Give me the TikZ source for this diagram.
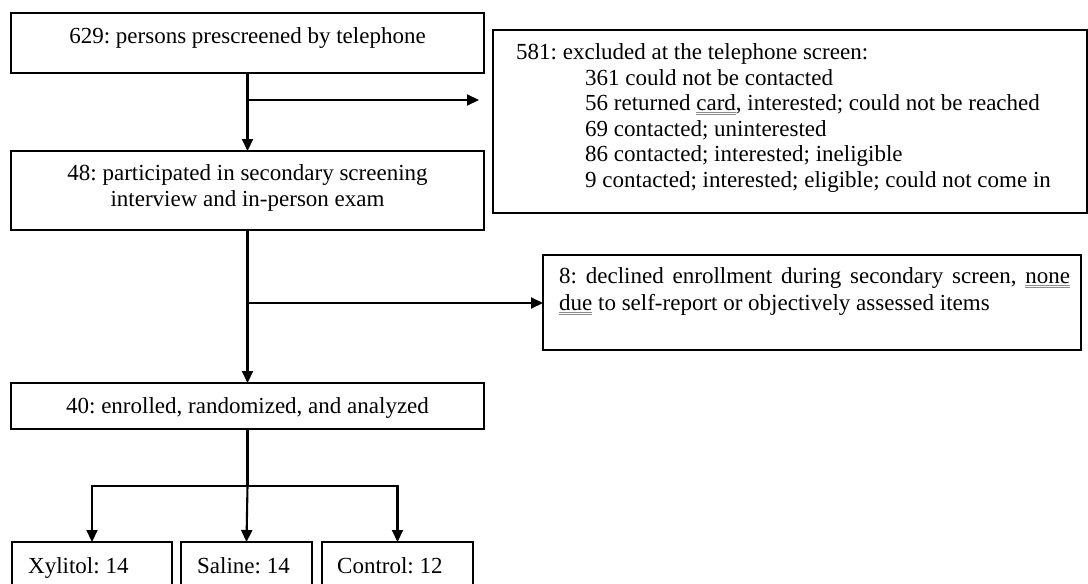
\documentclass[tikz,border=0pt]{standalone}
\usepackage{fontspec}
\setmainfont{Liberation Serif}
\usetikzlibrary{arrows.meta,calc}
\newsavebox\dulbox
\newcommand\dul[1]{\sbox\dulbox{#1}\rlap{\color{black!45}\rule[-2.5pt]{\wd\dulbox}{0.6pt}\hspace{-\wd\dulbox}\rule[-4.5pt]{\wd\dulbox}{0.6pt}}\usebox\dulbox}
\frenchspacing
\begin{document}
\begin{tikzpicture}[x=1pt,y=-1pt,
  box/.style={draw=black,line width=2.1pt,inner sep=0pt,outer sep=0pt,anchor=north west},
  txt/.style={inner sep=0pt,font=\fontsize{23}{25.7}\selectfont},
  conn/.style={line width=2.1pt},
  arr/.style={conn,-{Triangle[length=12pt,width=11pt]}}]
\clip (0,0) rectangle (1088,584);
\fill[white] (0,0) rectangle (1088,584);
% boxes
\node[box,minimum width=473pt,minimum height=60pt] (n629) at (11,13) {};
\node[box,minimum width=473pt,minimum height=79pt] (n48) at (11,151) {};
\node[box,minimum width=594pt,minimum height=183pt] (n581) at (493,30) {};
\node[box,minimum width=538pt,minimum height=95pt] (n8) at (543,255) {};
\node[box,minimum width=473pt,minimum height=46pt] (n40) at (11,383) {};
\node[box,minimum width=160pt,minimum height=70pt] (nx) at (12,542) {};
\node[box,minimum width=131pt,minimum height=70pt] (ns) at (181,542) {};
\node[box,minimum width=151pt,minimum height=70pt] (nc) at (322,542) {};
% texts
\node[txt,anchor=base] (t629) at (247.5,43) {629: persons prescreened by telephone};
\node[txt,anchor=base] (t48a) at (247.5,180) {48: participated in secondary screening};
\node[txt,anchor=base] (t48b) at (247.5,206) {interview and in-person exam};
\node[txt,anchor=base west] (t581) at (516,59) {581: excluded at the telephone screen:};
\node[txt,anchor=base west] (t581a) at (585,85) {361 could not be contacted};
\node[txt,anchor=base west] (t581b) at (585,110.5) {56 returned \dul{card}, interested; could not be reached};
\node[txt,anchor=base west] (t581c) at (585,136) {69 contacted; uninterested};
\node[txt,anchor=base west] (t581d) at (585,161.5) {86 contacted; interested; ineligible};
\node[txt,anchor=base west] (t581e) at (585,187) {9 contacted; interested; eligible; could not come in};
\node[txt,anchor=base west] (t8a) at (559,283) {\makebox[511pt][s]{8: declined enrollment during secondary screen, \dul{none}}};
\node[txt,anchor=base west] (t8b) at (559,310) {\dul{due} to self-report or objectively assessed items};
\node[txt,anchor=base] (t40) at (247.5,413) {40: enrolled, randomized, and analyzed};
\node[txt,anchor=base west] (tx) at (28,573) {Xylitol: 14};
\node[txt,anchor=base west] (ts) at (197,573) {Saline: 14};
\node[txt,anchor=base west] (tc) at (337,573) {Control: 12};
% connectors
\coordinate (b1) at (247.5,100);
\coordinate (b2) at (247.5,303);
\coordinate (b3) at (247.5,486);
\draw[arr] (n629.south) -- (n48.north);
\draw[arr,shorten >=14pt] (b1) -- (b1 -| n581.west);
\draw[arr] (n48.south) -- (n40.north);
\draw[arr] (b2) -- (b2 -| n8.west);
\draw[conn] (n40.south) -- (b3);
\draw[arr] (b3) -| (nx.north);
\draw[arr] (b3) -- (ns.north);
\draw[arr] (b3) -| (nc.north);
\end{tikzpicture}
\end{document}
